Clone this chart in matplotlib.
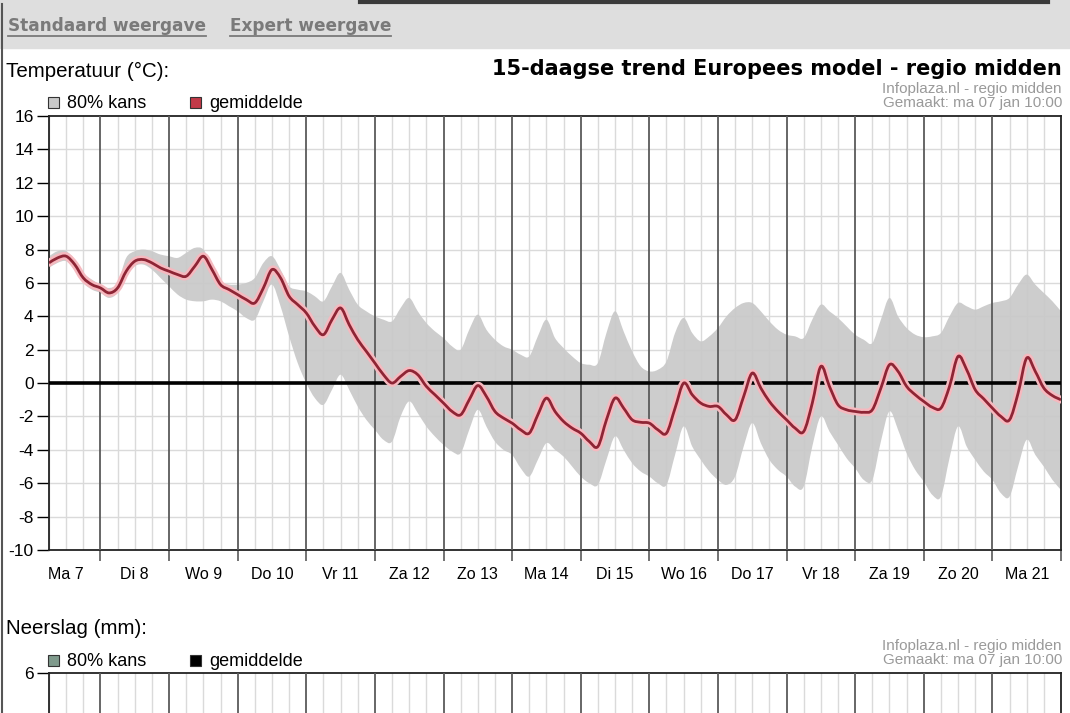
import matplotlib
matplotlib.use("Agg")
import matplotlib.pyplot as plt
from matplotlib.lines import Line2D
from matplotlib.patches import PathPatch, Rectangle
from matplotlib.path import Path

plt.rcParams["font.family"] = ["Liberation Sans", "DejaVu Sans"]
plt.rcParams["axes.unicode_minus"] = False

W, H = 1070, 713

# tijdstippen in uren sinds ma 7 jan 00:00 (elke 3 uur)
hours = list(range(6, 361, 3))

day_labels = ["Ma 7", "Di 8", "Wo 9", "Do 10", "Vr 11", "Za 12", "Zo 13", "Ma 14",
              "Di 15", "Wo 16", "Do 17", "Vr 18", "Za 19", "Zo 20", "Ma 21"]

# gemiddelde temperatuur
mean_temp = [
    7.2, 7.5, 7.6, 7.1, 6.3, 5.9,
    5.7, 5.4, 5.7, 6.7, 7.3, 7.4, 7.2, 6.9,
    6.7, 6.5, 6.4, 7.0, 7.6, 6.8, 5.9, 5.6,
    5.3, 5.0, 4.8, 5.7, 6.8, 6.3, 5.2, 4.7,
    4.2, 3.4, 2.9, 3.8, 4.5, 3.5, 2.6, 1.9,
    1.2, 0.5, 0.0, 0.4, 0.75, 0.5, -0.2, -0.7,
    -1.2, -1.7, -1.9, -1.0, -0.15, -0.8, -1.7, -2.1,
    -2.4, -2.8, -3.0, -1.9, -0.9, -1.7, -2.3, -2.7,
    -3.0, -3.5, -3.8, -2.2, -0.9, -1.5, -2.2, -2.35,
    -2.4, -2.8, -3.0, -1.5, 0.0, -0.7, -1.2, -1.4,
    -1.4, -1.9, -2.2, -0.8, 0.6, -0.3, -1.1, -1.7,
    -2.2, -2.7, -2.9, -1.2, 1.0, -0.2, -1.3, -1.6,
    -1.7, -1.75, -1.6, -0.3, 1.1, 0.7, -0.2, -0.7,
    -1.1, -1.45, -1.5, -0.2, 1.6, 0.8, -0.4, -0.95,
    -1.5, -2.0, -2.2, -0.6, 1.5, 0.7, -0.3, -0.75,
    -1.0,
]

# 80% kans: bovengrens
upper_80 = [
    7.6, 7.9, 7.9, 7.4, 6.6, 6.2,
    5.9, 5.7, 6.0, 7.5, 7.9, 8.0, 7.9, 7.7,
    7.6, 7.5, 7.8, 8.1, 8.0, 7.0, 6.1, 5.9,
    5.9, 6.0, 6.3, 7.2, 7.6, 6.8, 5.8, 5.6,
    5.5, 5.2, 4.9, 5.8, 6.6, 5.6, 4.7, 4.3,
    4.0, 3.8, 3.7, 4.5, 5.1, 4.3, 3.6, 3.1,
    2.7, 2.2, 2.0, 3.2, 4.1, 3.2, 2.6, 2.2,
    2.0, 1.7, 1.6, 2.8, 3.8, 2.7, 2.1, 1.6,
    1.2, 1.1, 1.2, 3.0, 4.3, 3.1, 1.9, 1.0,
    0.7, 0.8, 1.3, 3.0, 3.9, 3.0, 2.5, 2.8,
    3.3, 4.0, 4.5, 4.8, 4.8, 4.3, 3.7, 3.2,
    2.9, 2.8, 2.7, 3.8, 4.7, 4.3, 3.9, 3.4,
    2.9, 2.6, 2.4, 3.8, 5.1, 4.0, 3.3, 2.9,
    2.75, 2.8, 3.0, 4.0, 4.8, 4.6, 4.4, 4.6,
    4.8, 4.9, 5.1, 5.9, 6.5, 5.9, 5.4, 4.9,
    4.3,
]

# 80% kans: ondergrens
lower_80 = [
    6.9, 7.2, 7.3, 6.8, 6.0, 5.6,
    5.4, 5.1, 5.4, 6.4, 7.0, 7.1, 6.8, 6.3,
    5.8, 5.3, 5.0, 4.9, 4.9, 5.0, 4.9, 4.6,
    4.3, 3.9, 3.8, 4.9, 5.9, 4.6, 2.8, 1.2,
    0.0, -0.9, -1.3, -0.4, 0.5, -0.4, -1.4, -2.2,
    -2.8, -3.4, -3.5, -2.0, -1.1, -1.8, -2.6, -3.2,
    -3.7, -4.1, -4.2, -2.8, -1.6, -2.6, -3.5, -4.0,
    -4.3, -5.1, -5.6, -4.6, -3.6, -4.0, -4.4, -5.0,
    -5.6, -6.0, -6.1, -4.6, -3.2, -4.0, -4.8, -5.3,
    -5.6, -6.0, -6.1, -4.3, -2.6, -3.8, -4.6, -5.3,
    -5.8, -6.1, -5.6, -3.8, -2.4, -3.6, -4.6, -5.2,
    -5.6, -6.2, -6.2, -3.8, -2.0, -2.9, -3.7, -4.5,
    -5.1, -5.8, -5.8, -3.5, -1.7, -2.8, -4.2, -5.2,
    -5.9, -6.7, -6.8, -4.5, -2.6, -3.8, -4.6, -5.3,
    -5.8, -6.6, -6.8, -5.0, -3.4, -4.3, -5.0, -5.8,
    -6.4,
]

BAND = "#c9c9c9"
LINE_CORE = "#8e2535"
LINE_GLOW = "#f6b9bf"
GRID = "#dadada"
DAYLINE = "#5a5a5a"
TEXT_GREY = "#9a9a9a"


def fx(x):
    return x / W


def fy(y):
    return 1 - y / H


def axes_rect(left, top, right, bottom):
    return [fx(left), fy(bottom), fx(right) - fx(left), fy(top) - fy(bottom)]


def curve_verts(xs, ys):
    """Catmull-Rom door de punten, als kubische bezier-segmenten."""
    n = len(xs)
    verts = [(xs[0], ys[0])]
    for i in range(n - 1):
        a = max(i - 1, 0)
        d = min(i + 2, n - 1)
        c1 = (xs[i] + (xs[i + 1] - xs[a]) / 6, ys[i] + (ys[i + 1] - ys[a]) / 6)
        c2 = (xs[i + 1] - (xs[d] - xs[i]) / 6, ys[i + 1] - (ys[d] - ys[i]) / 6)
        verts += [c1, c2, (xs[i + 1], ys[i + 1])]
    return verts


def curve_path(xs, ys):
    verts = curve_verts(xs, ys)
    codes = [Path.MOVETO] + [Path.CURVE4] * (len(verts) - 1)
    return Path(verts, codes)


def band_path(xs, lo, hi):
    top = curve_verts(xs, hi)
    bot = curve_verts(xs[::-1], lo[::-1])
    verts = top + bot + [top[0]]
    codes = ([Path.MOVETO] + [Path.CURVE4] * (len(top) - 1)
             + [Path.LINETO] + [Path.CURVE4] * (len(bot) - 1) + [Path.CLOSEPOLY])
    return Path(verts, codes)


def day_grid(ax):
    x0, x1 = hours[0], hours[-1]
    for h in range(x0, x1 + 1, 6):
        if h % 24:
            ax.axvline(h, color=GRID, lw=1.0, zorder=0)
    for h in range(24, x1, 24):
        ax.axvline(h, color=DAYLINE, lw=1.3, zorder=3)
    ax.set_xlim(x0, x1)
    for s in ax.spines.values():
        s.set_color("#222222")
        s.set_linewidth(1.3)


fig = plt.figure(figsize=(W / 100, H / 100), dpi=100)

# kopbalk
fig.add_artist(Rectangle((0, fy(48)), 1, fy(0) - fy(48), transform=fig.transFigure,
                         color="#dedede", zorder=0))
fig.add_artist(Line2D([fx(360), fx(1048)], [fy(1.5), fy(1.5)], color="#3a3a3a", lw=3))
fig.add_artist(Line2D([fx(2), fx(2)], [fy(4), 0], color="#555555", lw=1.5))

links = []
for x, txt in [(8, "Standaard weergave"), (230, "Expert weergave")]:
    t = fig.text(fx(x), fy(26), txt, fontsize=12.2, fontweight="bold", color="#7a7a7a",
                 family=["DejaVu Sans"], ha="left", va="center")
    links.append(t)

fig.text(fx(6), fy(71), "Temperatuur (°C):", fontsize=14.8, ha="left", va="center")
fig.text(fx(1062), fy(69), "15-daagse trend Europees model - regio midden",
         fontsize=15, fontweight="bold", family=["DejaVu Sans"], ha="right", va="center")
for y, txt in [(89, "Infoplaza.nl - regio midden"), (103, "Gemaakt: ma 07 jan 10:00")]:
    fig.text(fx(1062), fy(y), txt, fontsize=11, color=TEXT_GREY, ha="right", va="center")
    fig.text(fx(1062), fy(y + 557), txt, fontsize=11, color=TEXT_GREY, ha="right", va="center")


def legend(y, items):
    for x, color, label in items:
        fig.add_artist(Rectangle((fx(x), fy(y + 5)), 11 / W, 11 / H,
                                 transform=fig.transFigure, facecolor=color,
                                 edgecolor="#333333", lw=0.8))
        fig.text(fx(x + 19), fy(y), label, fontsize=13, ha="left", va="center")


legend(103, [(48, BAND, "80% kans"), (190, "#c23a48", "gemiddelde")])

# temperatuurgrafiek
ax = fig.add_axes(axes_rect(49, 116, 1061, 550))
day_grid(ax)
ax.set_ylim(-10, 16)
ax.set_yticks(range(-10, 17, 2))
for v in range(-8, 16, 2):
    ax.axhline(v, color=GRID, lw=1.0, zorder=0)
ax.add_patch(PathPatch(band_path(hours, lower_80, upper_80), facecolor=BAND, lw=0,
                       alpha=0.92, zorder=2))
ax.axhline(0, color="black", lw=2.6, zorder=4)
mean_path = curve_path(hours, mean_temp)
ax.add_patch(PathPatch(mean_path, fill=False, edgecolor=LINE_GLOW, lw=5.5,
                       joinstyle="round", capstyle="round", zorder=5))
ax.add_patch(PathPatch(mean_path, fill=False, edgecolor=LINE_CORE, lw=2.0,
                       joinstyle="round", zorder=6))

ax.set_xticks(range(24, hours[-1] + 1, 24))
ax.set_xticklabels([])
ax.set_xticks(range(12, hours[-1], 24), minor=True)
ax.set_xticklabels(day_labels, minor=True)
ax.tick_params(axis="x", which="major", length=8, color=DAYLINE, width=1.2)
ax.tick_params(axis="x", which="minor", length=0, pad=12, labelsize=11.5)
ax.tick_params(axis="y", length=9, width=1.0, pad=2, labelsize=12.5)

# neerslaggrafiek (bovenkant zichtbaar)
fig.text(fx(6), fy(628), "Neerslag (mm):", fontsize=14.8, ha="left", va="center")
legend(661, [(48, "#7f9a8c", "80% kans"), (190, "#000000", "gemiddelde")])

ax2 = fig.add_axes(axes_rect(49, 673, 1061, 900))
day_grid(ax2)
ax2.set_ylim(0, 6)
ax2.set_yticks([6])
ax2.set_xticks([])
ax2.tick_params(axis="y", length=9, width=1.0, pad=2, labelsize=12.5)

fig.canvas.draw()
r = fig.canvas.get_renderer()
for t in links:
    bb = t.get_window_extent(r)
    yl = bb.y0 - 1
    fig.add_artist(Line2D([bb.x0 / W, bb.x1 / W], [yl / H, yl / H], color="#7a7a7a", lw=1.3))

fig.savefig("out.png", dpi=100)
